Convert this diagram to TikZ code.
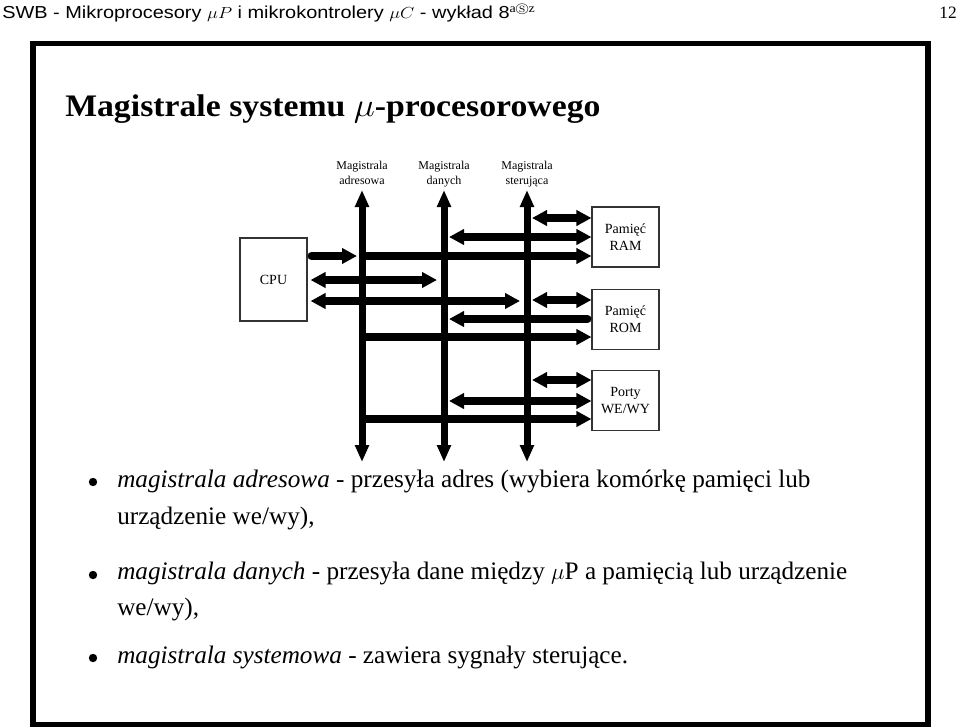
\documentclass[tikz,border=0pt]{standalone}
\usepackage{amsmath,amssymb}
\usepackage{fontspec}
\setmainfont{Liberation Serif}
\setsansfont{Liberation Sans}
\usetikzlibrary{arrows.meta,positioning}

\begin{document}
\begin{tikzpicture}[x=0.75pt,y=-0.75pt,
  box/.style={draw=black!80,line width=0.8pt,align=center,minimum width=50.25pt,minimum height=45pt,font=\fontsize{10.5}{12.75}\selectfont},
  lbl/.style={align=center,inner sep=0pt,text depth=2.5pt,font=\fontsize{9}{11.25}\selectfont},
  vbus/.style={line width=5.25pt,{Triangle[width=10pt,length=12.75pt]}-{Triangle[width=10pt,length=12.75pt]}},
  hbus/.style={line width=6pt},
  >={Triangle[width=11.25pt,length=11.25pt]},
  txt/.style={anchor=base west,inner sep=0pt,font=\fontsize{18.9}{22}\selectfont},
  dot/.style={circle,fill,inner sep=0pt,minimum size=6.3pt}]
\useasboundingbox (0,0) rectangle (960,728);
\node[anchor=base west,inner sep=0pt,font=\sffamily\fontsize{13}{15}\selectfont] (head) at (2,18.5)
  {\scalebox{1.15}[1]{SWB - Mikroprocesory $\mu P$ i mikrokontrolery $\mu C$ - wykład 8$^{\mathrm{a}\circledS\mathrm{z}}$}};
\node[anchor=base east,inner sep=0pt,font=\fontsize{13}{15}\selectfont] (pg) at (957,18.5) {12};
\draw[line width=4.1pt] (33,43.5) rectangle (928,724.5);
\node[anchor=base west,inner sep=0pt,font=\bfseries\fontsize{23.5}{28}\selectfont] (title) at (65,116)
  {\scalebox{1.077}[1]{Magistrale systemu $\mu$-procesorowego}};

% boxes
\node[box,minimum height=62.25pt] (cpu) at (273.5,279.5) {CPU};
\node[box] (ram) at (625.5,237) {Pamięć\\RAM};
\node[box,below=15.75pt of ram] (rom) {Pamięć\\ROM};
\node[box,below=15pt of rom] (io) {Porty\\WE/WY};

% buses
\node[lbl] (adrL) at (362,174.5) {Magistrala\\adresowa};
\node[lbl] (datL) at (444,174.5) {Magistrala\\danych};
\node[lbl] (ctlL) at (527,174.5) {Magistrala\\sterująca};
\coordinate (adrT) at (362,190); \coordinate (adrB) at (362,462);
\coordinate (datT) at (444,190); \coordinate (datB) at (444,462);
\coordinate (ctlT) at (527,190); \coordinate (ctlB) at (527,462);
\foreach \b in {adr,dat,ctl}
  \draw[vbus] (\b T) -- (\b B);

% RAM
\draw[hbus,<->,shorten <=3.75pt] (ctlT |- 0,218) -- (ram.west |- 0,218);
\draw[hbus,<->,shorten <=3.75pt] (datT |- 0,237) -- (ram.west |- 0,237);
\draw[hbus,->] (adrT |- 0,256) -- (ram.west |- 0,256);
% CPU
\draw[hbus,->,line cap=round,shorten <=3pt,shorten >=3.75pt] (cpu.east |- 0,256) -- (adrT |- 0,256);
\draw[hbus,<->,shorten <=2.25pt,shorten >=5.25pt] (cpu.east |- 0,280) -- (datT |- 0,280);
\draw[hbus,<->,shorten <=2.25pt,shorten >=5.25pt] (cpu.east |- 0,301) -- (ctlT |- 0,301);
% ROM
\draw[hbus,<->,shorten <=3.75pt] (ctlT |- 0,300) -- (rom.west |- 0,300);
\draw[hbus,->,line cap=round,shorten <=3pt,shorten >=3.75pt] (rom.west |- 0,319) -- (datT |- 0,319);
\draw[hbus,->] (adrT |- 0,337) -- (rom.west |- 0,337);
% WE/WY
\draw[hbus,<->,shorten <=3.75pt] (ctlT |- 0,380) -- (io.west |- 0,380);
\draw[hbus,<->,shorten <=3.75pt] (datT |- 0,401) -- (io.west |- 0,401);
\draw[hbus,->] (adrT |- 0,419) -- (io.west |- 0,419);

% bullets
\node[dot] (d1) at (93,482) {};
\node[dot] (d2) at (93,575) {};
\node[dot] (d3) at (93,658) {};
\node[txt] (l1) at (117,487) {\textit{magistrala adresowa} - przesyła adres (wybiera komórkę pamięci lub};
\node[txt] (l2) at (117,524) {urządzenie we/wy),};
\node[txt] (l3) at (117,579) {\textit{magistrala danych} - przesyła dane między $\mu$P a pamięcią lub urządzenie};
\node[txt] (l4) at (117,615) {we/wy),};
\node[txt] (l5) at (117,663) {\textit{magistrala systemowa} - zawiera sygnały sterujące.};
\end{tikzpicture}
\end{document}
